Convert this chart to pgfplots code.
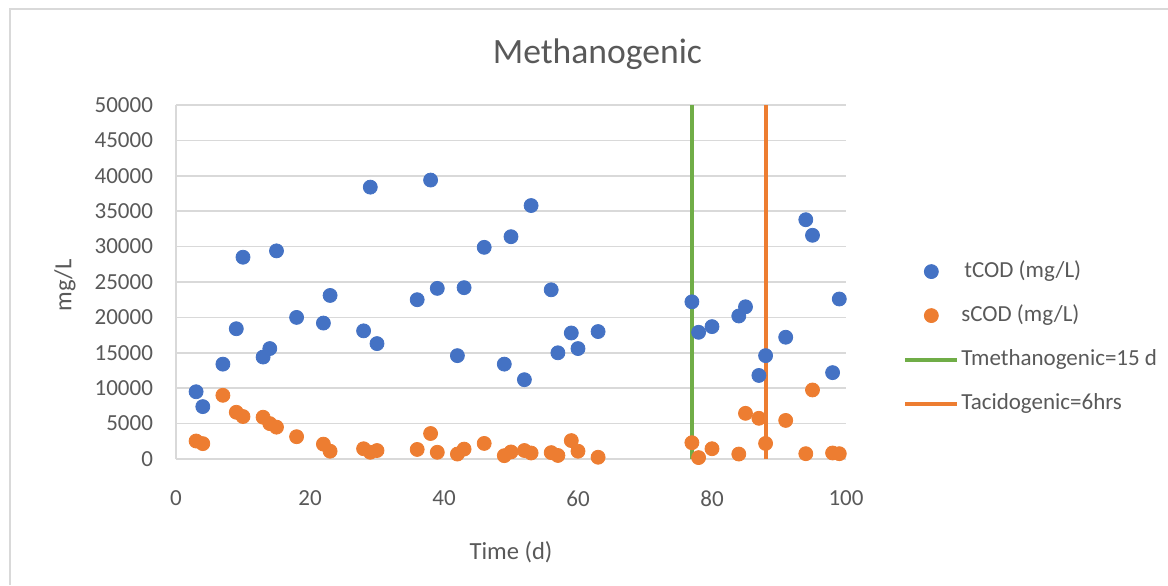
\documentclass[border=0pt]{standalone}
\usepackage{fontspec}
\setmainfont{Carlito}
\usepackage{pgfplots}
\pgfplotsset{compat=1.18}

\definecolor{tblue}{HTML}{4472C4}
\definecolor{sorange}{HTML}{ED7D31}
\definecolor{mgreen}{HTML}{70AD47}
\definecolor{txtgray}{HTML}{595959}
\definecolor{gridgray}{HTML}{D9D9D9}

\pgfplotsset{
  dotlegend/.style={legend image code/.code={\draw[##1] plot coordinates {(13pt,0pt)};}},
  linelegend/.style={legend image code/.code={\draw[##1] (0pt,0pt) -- (26pt,0pt);}},
}

\begin{document}
\begin{tikzpicture}
% page frame (chart area border, top and left edges visible)
\path[use as bounding box] (-88pt,-63pt) rectangle (496pt,229.5pt);
\draw[gridgray, line width=0.9pt] (-83pt,-63pt) -- (-83pt,225pt) -- (496pt,225pt);

\begin{axis}[
  at={(0pt,0pt)}, anchor=south west,
  scale only axis,
  width=335pt, height=177pt,
  xmin=0, xmax=100, ymin=0, ymax=50000,
  xtick distance=20, ytick distance=5000,
  scaled y ticks=false,
  /pgf/number format/.cd, 1000 sep={}, assume math mode=true,
  /pgfplots/.cd,
  axis lines*=left,
  axis line style={gridgray, line width=0.75pt},
  ymajorgrids,
  grid style={gridgray, line width=0.75pt},
  major tick length=0pt,
  tick label style={font=\fontsize{11.5}{13}\selectfont, text=txtgray},
  xticklabel style={yshift=-12.5pt},
  yticklabel style={xshift=-8pt},
  title={Methanogenic},
  title style={at={(0.629,1.11)}, anchor=center,
    font=\fontsize{17.8}{20}\selectfont, text=txtgray},
  xlabel={Time (d)},
  xlabel style={at={(0.5,-0.263)}, anchor=center,
    font=\fontsize{12.3}{14}\selectfont, text=txtgray},
  ylabel={mg/L},
  ylabel style={at={(-0.1657,0.49)}, anchor=center,
    font=\fontsize{12.3}{14}\selectfont, text=txtgray},
  legend style={at={(1.085,0.343)}, anchor=west, draw=none, fill=none,
    font=\fontsize{11.5}{13}\selectfont, text=txtgray,
    inner sep=0pt, row sep=9.5pt,
    nodes={inner sep=1pt, text height=8pt, text depth=2.5pt}},
  legend cell align=left,
]

% total COD
\addplot[only marks, mark=*, mark size=3.5pt, color=tblue, dotlegend]
coordinates {
(3,9500) (4,7400) (7,13400) (9,18400) (10,28500) (13,14400) (14,15600)
(15,29400) (18,20000) (22,19200) (23,23100) (28,18100) (29,38400)
(30,16300) (36,22500) (38,39400) (39,24100) (42,14600) (43,24200)
(46,29900) (49,13400) (50,31400) (52,11200) (53,35800) (56,23900)
(57,15000) (59,17800) (60,15600) (63,18000) (77,22200) (78,17900)
(80,18700) (84,20200) (85,21500) (87,11800) (88,14600) (91,17200)
(94,33800) (95,31600) (98,12200) (99,22600)
};
\addlegendentry{\hspace{1.5pt}tCOD (mg/L)}

% soluble COD
\addplot[only marks, mark=*, mark size=3.5pt, color=sorange, dotlegend]
coordinates {
(3,2540) (4,2170) (7,9000) (9,6600) (10,6000) (13,5900) (14,5000)
(15,4500) (18,3150) (22,2100) (23,1100) (28,1450) (29,950) (30,1200)
(36,1350) (38,3600) (39,950) (42,700) (43,1400) (46,2200) (49,470)
(50,1000) (52,1200) (53,850) (56,900) (57,500) (59,2600) (60,1100)
(63,250) (77,2300) (78,200) (80,1450) (84,700) (85,6450) (87,5750)
(88,2200) (91,5450) (94,750) (95,9750) (98,850) (99,750)
};
\addlegendentry{sCOD (mg/L)}

% retention-time markers
\addplot[mgreen, line width=2pt, linelegend]
coordinates {(77,0) (77,50000)};
\addlegendentry{Tmethanogenic=15 d}

\addplot[sorange, line width=2pt, linelegend]
coordinates {(88,0) (88,50000)};
\addlegendentry{Tacidogenic=6hrs}

\end{axis}
\end{tikzpicture}
\end{document}
